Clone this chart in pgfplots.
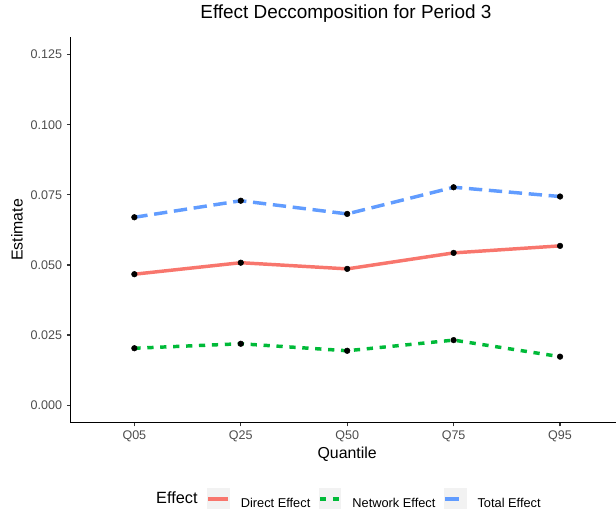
\documentclass[border=0pt]{standalone}
\usepackage{fontspec}
\setmainfont{Liberation Sans}
\usepackage{pgfplots}
\usepackage{pgfplotstable}
\pgfplotsset{compat=1.18}
\definecolor{cDirect}{HTML}{F8766D}
\definecolor{cNetwork}{HTML}{00BA38}
\definecolor{cTotal}{HTML}{619CFF}
\definecolor{grey30}{HTML}{4D4D4D}
\definecolor{grey20}{HTML}{333333}
\definecolor{keybg}{HTML}{F2F2F2}

\pgfplotstableread{
x direct network total
0 0.0467 0.0203 0.0670
1 0.0508 0.0219 0.0729
2 0.0486 0.0194 0.0682
3 0.0543 0.0232 0.0777
4 0.0568 0.0173 0.0744
}\datatable

\begin{document}
\begin{tikzpicture}
\path[use as bounding box] (-52.875pt,-64.725pt) rectangle (409.125pt,317.025pt);
\begin{axis}[
  at={(0pt,0pt)}, anchor=south west,
  scale only axis, width=409.125pt, height=289.2pt,
  xmin=-0.6, xmax=4.526, ymin=-0.00625, ymax=0.13125,
  axis lines=left, axis line style={-, line width=1.1pt, black},
  xtick={0,1,2,3,4}, xticklabels={Q05,Q25,Q50,Q75,Q95},
  ytick={0,0.025,0.05,0.075,0.1,0.125},
  yticklabels={0.000,0.025,0.050,0.075,0.100,0.125},
  tick align=outside, major tick length=2.75pt,
  every tick/.style={grey20, line width=0.9pt},
  ticklabel style={font=\fontsize{9.4}{11}\selectfont, text=grey30, inner sep=0pt},
  yticklabel style={anchor=east, xshift=-3.4pt},
  xticklabel style={anchor=north, yshift=-3.3pt},
  title={Effect Deccomposition for Period 3},
  title style={at={(axis description cs:0.505,1.0287)}, anchor=base, font=\fontsize{14.2}{17}\selectfont, inner sep=0pt},
  xlabel={Quantile},
  xlabel style={at={(axis description cs:0.5072,-0.09405)}, anchor=base, font=\fontsize{11.9}{14}\selectfont, inner sep=0pt},
  ylabel={Estimate},
  ylabel style={at={(axis description cs:-0.08763,0.5)}, anchor=base, font=\fontsize{11.9}{14}\selectfont, inner sep=0pt},
  legend columns=-1,
  legend image code/.code={
    \path[fill=keybg, draw=none, solid, line width=0pt] (0pt,-5.2pt) rectangle (17pt,11.8pt);
    \draw (1pt,3.3pt) -- (16pt,3.3pt);
    \path (24pt,0pt);
  },
  legend style={at={(0.2497,-0.1981)}, anchor=west, draw=none, fill=none,
    inner sep=0pt, outer sep=0pt, column sep=0pt,
    nodes={inner sep=0pt, font=\fontsize{9.6}{11}\selectfont, text=black},
    /tikz/every even column/.append style={column sep=6pt}},
]
\addplot[cDirect, line width=2.6pt, solid, mark=none] table[x=x, y=direct]{\datatable};
\addlegendentry{Direct Effect}
\addplot[cNetwork, line width=2.6pt, dash pattern=on 4.7pt off 5pt, mark=none] table[x=x, y=network]{\datatable};
\addlegendentry{Network Effect}
\addplot[cTotal, line width=2.6pt, dash pattern=on 10pt off 5pt, mark=none] table[x=x, y=total]{\datatable};
\addlegendentry{Total Effect}
\addplot[only marks, mark=*, mark size=2.1pt, black, forget plot] table[x=x, y=direct]{\datatable};
\addplot[only marks, mark=*, mark size=2.1pt, black, forget plot] table[x=x, y=network]{\datatable};
\addplot[only marks, mark=*, mark size=2.1pt, black, forget plot] table[x=x, y=total]{\datatable};
\end{axis}
\node[anchor=base west, inner sep=0pt, font=\fontsize{12.2}{14}\selectfont] at (64.1pt,-60.9pt) {Effect};
\end{tikzpicture}
\end{document}
